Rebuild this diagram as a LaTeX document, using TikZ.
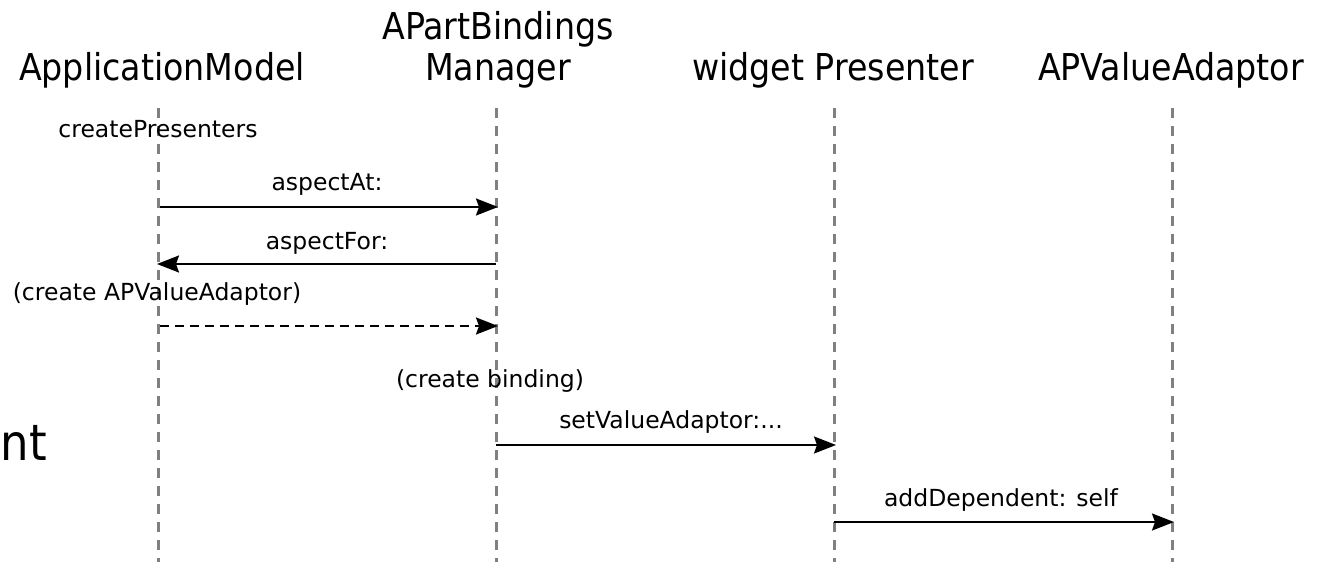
\documentclass[tikz,border=0pt]{standalone}
\usepackage{fontspec}
\setmainfont{DejaVu Sans Condensed}
\newfontfamily\labelfont{DejaVu Sans}
\usetikzlibrary{arrows.meta}
\definecolor{lgray}{RGB}{128,128,128}
\begin{document}
\begin{tikzpicture}[x=1pt,y=-1pt,
  lifeline/.style={draw=lgray, line width=3pt, dash pattern=on 10pt off 8pt},
  msg/.style={draw=black, line width=2pt, -{Stealth[length=22pt,width=17pt,inset=3pt]}},
  msgdash/.style={msg, dash pattern=on 9pt off 6pt},
  big/.style={font=\fontsize{37}{44}\selectfont, inner sep=0pt, anchor=base},
  small/.style={font=\labelfont\fontsize{23.5}{28}\selectfont, inner sep=0pt, anchor=base}]
\useasboundingbox (0,0) rectangle (1322,562);
\fill[white] (0,0) rectangle (1322,562);
% headers
\node[big] (hA) at (162,80) {ApplicationModel};
\node[big] (hB1) at (498,39) {APartBindings};
\node[big] (hB2) at (498,80) {Manager};
\node[big] (hC) at (833,80) {widget Presenter};
\node[big] (hD) at (1171,80) {APValueAdaptor};
\node[big, font=\fontsize{50}{60}\selectfont, anchor=base east] (cut) at (47,460) {nt};
% lifelines
\coordinate (A0) at (158,108); \coordinate (A1) at (158,562);
\coordinate (B0) at (496,108); \coordinate (B1) at (496,562);
\coordinate (C0) at (834,108); \coordinate (C1) at (834,562);
\coordinate (D0) at (1172,108); \coordinate (D1) at (1172,562);
\draw[lifeline] (A0) -- (A1);
\draw[lifeline] (B0) -- (B1);
\draw[lifeline] (C0) -- (C1);
\draw[lifeline] (D0) -- (D1);
% labels
\node[small] (l0) at (158,137) {createPresenters};
\node[small] (l1) at (327,190) {aspectAt:};
\node[small] (l2) at (327,249) {aspectFor:};
\node[small] (l3) at (157,300) {(create APValueAdaptor)};
\node[small] (l4) at (490,387) {(create binding)};
\node[small] (l5) at (671,428) {setValueAdaptor:...};
\node[small] (l6) at (1001,506) {addDependent: self};
% message points
\coordinate (m1s) at (160,207); \coordinate (m1e) at (498,207);
\coordinate (m2s) at (496,264); \coordinate (m2e) at (157,264);
\coordinate (m3s) at (160,326); \coordinate (m3e) at (498,326);
\coordinate (m4s) at (496,445); \coordinate (m4e) at (836,445);
\coordinate (m5s) at (834,522); \coordinate (m5e) at (1174,522);
\draw[msg] (m1s) -- (m1e);
\draw[msg] (m2s) -- (m2e);
\draw[msgdash] (m3s) -- (m3e);
\draw[msg] (m4s) -- (m4e);
\draw[msg] (m5s) -- (m5e);
\end{tikzpicture}
\end{document}
